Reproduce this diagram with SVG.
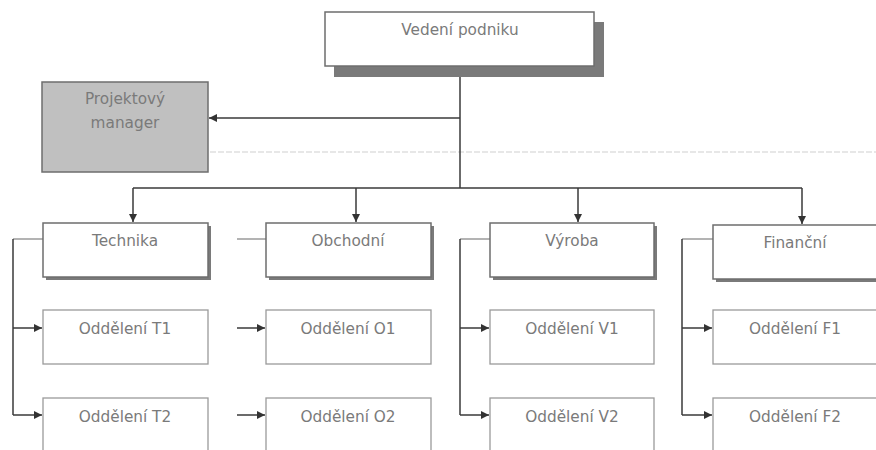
<svg xmlns="http://www.w3.org/2000/svg" width="876" height="450" viewBox="0 0 876 450">
  <defs>
    <marker id="arr" markerWidth="9" markerHeight="9" refX="8" refY="4.5" orient="auto" markerUnits="userSpaceOnUse">
      <path d="M0,0.5 L8,4.5 L0,8.5 Z" fill="#333"/>
    </marker>
  </defs>
  <style>
    .box { fill: #fff; stroke: #6e6e6e; stroke-width: 1.5; }
    .sub { fill: #fff; stroke: #9a9a9a; stroke-width: 1.3; }
    .pm { fill: #c0c0c0; stroke: #6e6e6e; stroke-width: 1.5; }
    .shadow { fill: #7a7a7a; }
    .lbl { font-family: "DejaVu Sans", Verdana, sans-serif; font-size: 15.3px; fill: #7a7a7a; text-anchor: middle; }
    .wire { fill: none; stroke: #3a3a3a; stroke-width: 1.5; }
    .stub { fill: none; stroke: #9a9a9a; stroke-width: 1.5; }
    .guide { fill: none; stroke: #cfcfcf; stroke-width: 1; stroke-dasharray: 6 2; }
  </style>
  <rect width="876" height="450" fill="#fff"/>

  <!-- connectors -->
  <g id="connectors">
    <line class="guide" x1="210" y1="152" x2="876" y2="152"/>
    <path class="wire" d="M460,66 V188"/>
    <path class="wire" d="M460,118 H209" marker-end="url(#arr)"/>
    <path class="wire" d="M133,188 H802"/>
    <path class="wire" d="M133,188 V222" marker-end="url(#arr)"/>
    <path class="wire" d="M356,188 V222" marker-end="url(#arr)"/>
    <path class="wire" d="M578,188 V222" marker-end="url(#arr)"/>
    <path class="wire" d="M802,188 V224" marker-end="url(#arr)"/>
    <!-- Technika branch -->
    <path class="stub" d="M43,239 H13"/>
    <path class="wire" d="M13,239 V415"/>
    <path class="wire" d="M13,328 H42" marker-end="url(#arr)"/>
    <path class="wire" d="M13,415 H42" marker-end="url(#arr)"/>
    <!-- Obchodní branch -->
    <path class="stub" d="M266,239 H237"/>
    <path class="wire" d="M237,328 H265" marker-end="url(#arr)"/>
    <path class="wire" d="M237,415 H265" marker-end="url(#arr)"/>
    <!-- Výroba branch -->
    <path class="stub" d="M490,239 H460"/>
    <path class="wire" d="M460,239 V415"/>
    <path class="wire" d="M460,328 H489" marker-end="url(#arr)"/>
    <path class="wire" d="M460,415 H489" marker-end="url(#arr)"/>
    <!-- Finanční branch -->
    <path class="stub" d="M713,239 H682"/>
    <path class="wire" d="M682,239 V415"/>
    <path class="wire" d="M682,328 H712" marker-end="url(#arr)"/>
    <path class="wire" d="M682,415 H712" marker-end="url(#arr)"/>
  </g>

  <g id="vedeni">
    <rect class="shadow" x="334" y="22" width="270" height="55"/>
    <rect class="box" x="325" y="12" width="269" height="54"/>
    <text class="lbl" x="460" y="35">Vedení podniku</text>
  </g>

  <g id="projektovy-manager">
    <rect class="pm" x="42" y="82" width="166" height="90"/>
    <text class="lbl" x="125" y="104">Projektový</text>
    <text class="lbl" x="125" y="128">manager</text>
  </g>

  <g id="technika">
    <rect class="shadow" x="46" y="226" width="165" height="54"/>
    <rect class="box" x="43" y="223" width="165" height="54"/>
    <text class="lbl" x="125" y="246">Technika</text>
  </g>
  <g id="obchodni">
    <rect class="shadow" x="269" y="226" width="165" height="54"/>
    <rect class="box" x="266" y="223" width="165" height="54"/>
    <text class="lbl" x="348" y="246">Obchodní</text>
  </g>
  <g id="vyroba">
    <rect class="shadow" x="493" y="226" width="164" height="54"/>
    <rect class="box" x="490" y="223" width="164" height="54"/>
    <text class="lbl" x="572" y="246">Výroba</text>
  </g>
  <g id="financni">
    <rect class="shadow" x="716" y="228" width="165" height="54"/>
    <rect class="box" x="713" y="225" width="165" height="54"/>
    <text class="lbl" x="795" y="248">Finanční</text>
  </g>

  <g id="oddeleni-t1">
    <rect class="sub" x="43" y="310" width="165" height="54"/>
    <text class="lbl" x="125" y="334">Oddělení T1</text>
  </g>
  <g id="oddeleni-t2">
    <rect class="sub" x="43" y="398" width="165" height="60"/>
    <text class="lbl" x="125" y="422">Oddělení T2</text>
  </g>
  <g id="oddeleni-o1">
    <rect class="sub" x="266" y="310" width="165" height="54"/>
    <text class="lbl" x="348" y="334">Oddělení O1</text>
  </g>
  <g id="oddeleni-o2">
    <rect class="sub" x="266" y="398" width="165" height="60"/>
    <text class="lbl" x="348" y="422">Oddělení O2</text>
  </g>
  <g id="oddeleni-v1">
    <rect class="sub" x="490" y="310" width="164" height="54"/>
    <text class="lbl" x="572" y="334">Oddělení V1</text>
  </g>
  <g id="oddeleni-v2">
    <rect class="sub" x="490" y="398" width="164" height="60"/>
    <text class="lbl" x="572" y="422">Oddělení V2</text>
  </g>
  <g id="oddeleni-f1">
    <rect class="sub" x="713" y="310" width="165" height="54"/>
    <text class="lbl" x="795" y="334">Oddělení F1</text>
  </g>
  <g id="oddeleni-f2">
    <rect class="sub" x="713" y="398" width="165" height="60"/>
    <text class="lbl" x="795" y="422">Oddělení F2</text>
  </g>
</svg>
